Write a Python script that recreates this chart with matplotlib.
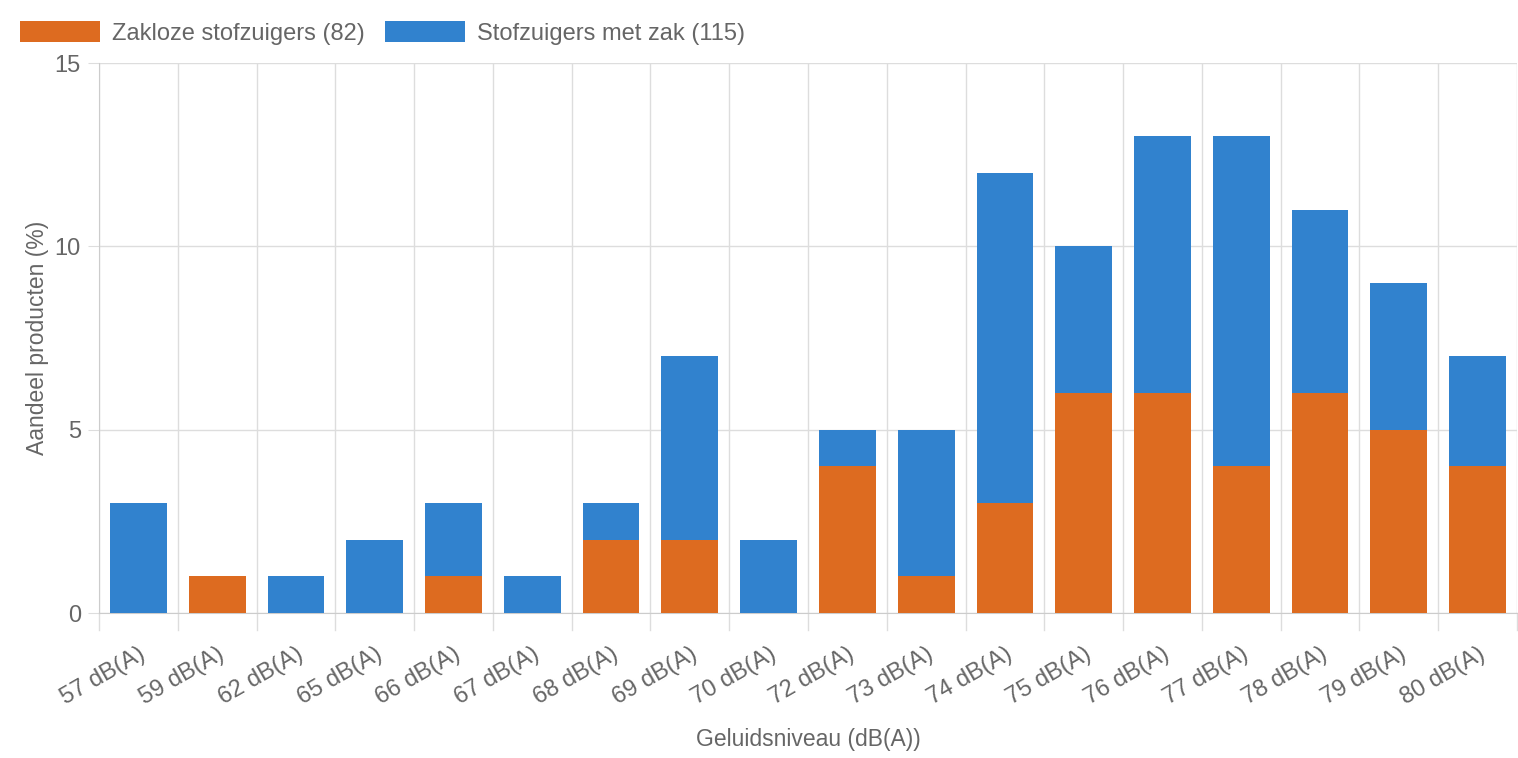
import matplotlib
matplotlib.use("Agg")
import matplotlib.pyplot as plt
import numpy as np

# --- dati ---
niveaus = ["57", "59", "62", "65", "66", "67", "68", "69", "70",
           "72", "73", "74", "75", "76", "77", "78", "79", "80"]
zakloos = [0, 1, 0, 0, 1, 0, 2, 2, 0, 4, 1, 3, 6, 6, 4, 6, 5, 4]
met_zak = [3, 0, 1, 2, 2, 1, 1, 5, 2, 1, 4, 9, 4, 7, 9, 5, 4, 3]
tick_labels = [f"{n} dB(A)" for n in niveaus]

ORANJE = "#DD6B20"
BLAUW = "#3182CE"
GRIJS = "#666666"
GRID = "#DDDDDD"

plt.rcParams["font.family"] = ["Liberation Sans", "DejaVu Sans"]

fig = plt.figure(figsize=(15.18, 7.58), dpi=100)
ax = fig.add_axes([99 / 1518, 1 - 613 / 758, (1517 - 99) / 1518, (613 - 63) / 758])

x = np.arange(len(niveaus))
w = 0.72
ax.bar(x, zakloos, width=w, color=ORANJE, label="Zakloze stofzuigers (82)", zorder=3)
ax.bar(x, met_zak, width=w, bottom=zakloos, color=BLAUW,
       label="Stofzuigers met zak (115)", zorder=3)

ax.set_xlim(-0.5, len(niveaus) - 0.5)
ax.set_ylim(0, 15)
ax.set_yticks([0, 5, 10, 15])

# verticale gridlijnen op de grenzen tussen categorieen
for b in np.arange(-0.5, len(niveaus), 1.0):
    ax.axvline(b, color=GRID, lw=1, zorder=0)
    ax.plot([b, b], [0, -0.03], transform=ax.get_xaxis_transform(),
            color=GRID, lw=1, clip_on=False)
ax.grid(axis="y", color=GRID, lw=1, zorder=0)

ax.set_xticks(x)
ax.set_xticklabels(tick_labels, rotation=30, ha="right", va="top",
                   rotation_mode="anchor", fontsize=17, color=GRIJS)
ax.tick_params(axis="x", length=0, pad=22)
ax.tick_params(axis="y", length=8, color=GRID, labelsize=17, labelcolor=GRIJS, pad=5)

for s in ["top", "right"]:
    ax.spines[s].set_visible(False)
ax.spines["left"].set_color("#CCCCCC")
ax.spines["bottom"].set_color("#CCCCCC")

ax.set_xlabel("Geluidsniveau (dB(A))", fontsize=16.5, color=GRIJS, labelpad=13)
ax.set_ylabel("Aandeel producten (%)", fontsize=16.5, color=GRIJS, labelpad=4)

fig.legend(loc="upper left", bbox_to_anchor=(20 / 1518, 1 - 21 / 758), ncol=2,
           frameon=False, fontsize=17, labelcolor=GRIJS, borderpad=0, borderaxespad=0,
           handlelength=3.4, handleheight=1.0, handletextpad=0.5, columnspacing=0.85)

plt.savefig("out.png", dpi=100)
plt.close()
